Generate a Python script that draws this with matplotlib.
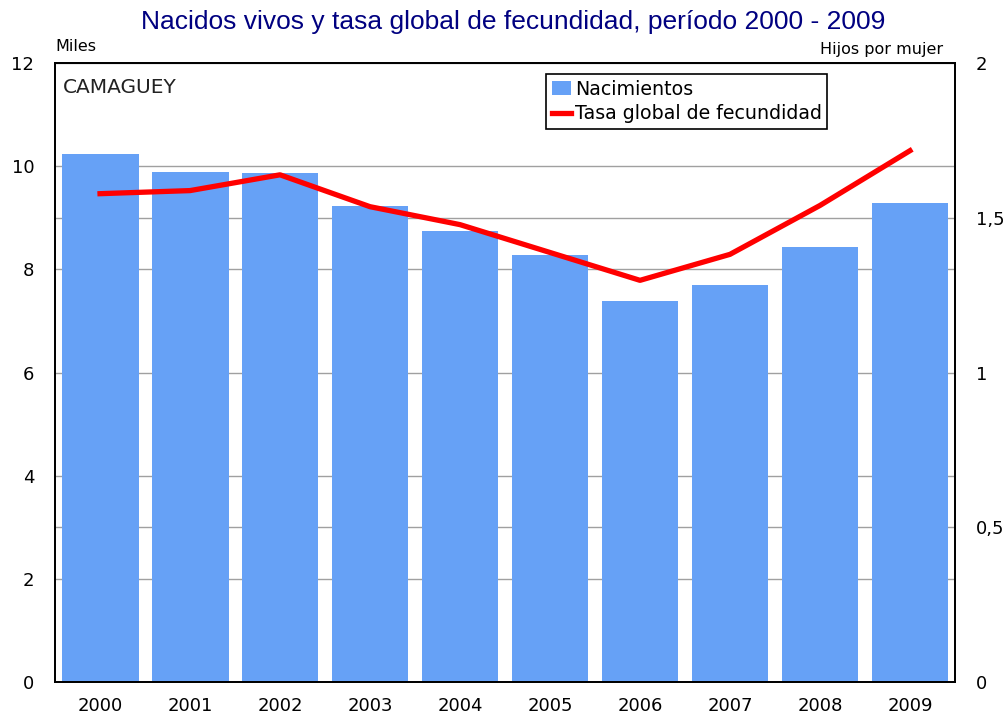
import matplotlib
matplotlib.use('Agg')
import matplotlib.pyplot as plt
from matplotlib.ticker import FuncFormatter

# datos
years = ['2000', '2001', '2002', '2003', '2004', '2005', '2006', '2007', '2008', '2009']
nacimientos = [10.24, 9.89, 9.87, 9.22, 8.75, 8.27, 7.38, 7.69, 8.44, 9.29]  # miles
tgf = [1.578, 1.588, 1.639, 1.536, 1.478, 1.388, 1.298, 1.382, 1.540, 1.717]  # hijos por mujer

plt.rcParams['font.family'] = 'DejaVu Sans'

fig = plt.figure(figsize=(10.08, 7.17), dpi=100)
ax = fig.add_axes([0.0546, 0.0488, 0.8928, 0.8632])
x = list(range(len(years)))

bars = ax.bar(x, nacimientos, width=0.855, color='#66a1f6', zorder=2, label='Nacimientos')
ax.set_xlim(-0.5, 9.5)
ax.set_ylim(0, 12)
ax.set_yticks(range(0, 13, 2))
ax.set_xticks(x)
ax.set_xticklabels(years)
ax.tick_params(axis='both', length=0, labelsize=13)
ax.tick_params(axis='y', pad=15)
ax.tick_params(axis='x', pad=11)

ax2 = ax.twinx()
ax2.set_ylim(0, 2)
ax2.set_yticks([0, 0.5, 1, 1.5, 2])
ax2.yaxis.set_major_formatter(FuncFormatter(lambda v, p: ('%g' % v).replace('.', ',')))
ax2.tick_params(axis='y', length=0, labelsize=13, pad=15)

# lineas de fondo: las de ambos ejes
ax.set_axisbelow(True)
ax.grid(axis='y', color='#a0a0a0', lw=1, zorder=0)
for g in [0.5, 1.5]:
    ax.axhline(g * 6, color='#a0a0a0', lw=1, zorder=0)

line, = ax2.plot(x, tgf, color='#ff0000', lw=3.8, zorder=3, label='Tasa global de fecundidad')

for a in (ax, ax2):
    for s in a.spines.values():
        s.set_linewidth(1.3)

leg = ax2.legend([bars, line], ['Nacimientos', 'Tasa global de fecundidad'],
                 loc='upper left', bbox_to_anchor=(0.5457, 0.9825), fontsize=13.7,
                 frameon=True, fancybox=False, edgecolor='black', framealpha=1,
                 borderpad=0.3, labelspacing=0.3, handlelength=1.0, handletextpad=0.2,
                 borderaxespad=0)
leg.get_frame().set_linewidth(1.2)

ax.text(0.009, 0.976, 'CAMAGUEY', transform=ax.transAxes, fontsize=14.5, color='#222222',
        va='top', ha='left')
fig.text(0.0546, 0.925, 'Miles', fontsize=11.5, ha='left', va='bottom')
fig.text(0.936, 0.921, 'Hijos por mujer', fontsize=11.5, ha='right', va='bottom')
fig.text(0.509, 0.970, 'Nacidos vivos y tasa global de fecundidad, período 2000 - 2009',
         fontsize=19, color='#000080', ha='center', va='center', family='Liberation Sans')

fig.savefig('out.png', dpi=100)
